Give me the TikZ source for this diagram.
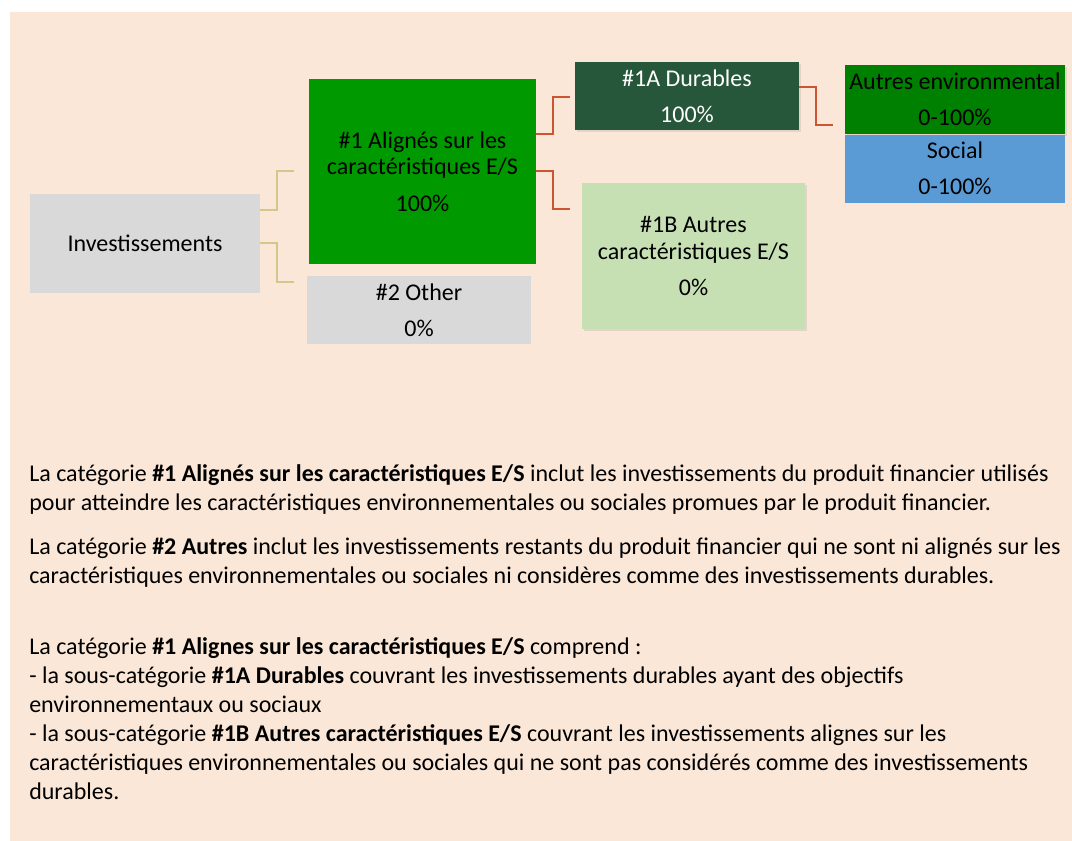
\documentclass[tikz,border=0pt]{standalone}
\usepackage{fontspec}
\setmainfont{Carlito}
\usetikzlibrary{positioning,calc,shadows}

\definecolor{peach}{HTML}{FAE7D7}
\definecolor{boxgray}{HTML}{D9D9D9}
\definecolor{alignedgreen}{HTML}{009900}
\definecolor{durgreen}{HTML}{26573A}
\definecolor{lightgreen}{HTML}{C6E0B4}
\definecolor{envgreen}{HTML}{008000}
\definecolor{socblue}{HTML}{5B9BD5}
\definecolor{tanline}{HTML}{D6C68C}
\definecolor{redline}{HTML}{CC5533}

\begin{document}
\begin{tikzpicture}[x=0.75pt, y=-0.75pt,
    box/.style={rectangle, inner sep=0pt, align=center, font=\fontsize{18}{20}\selectfont},
    shadowed/.style={drop shadow={shadow xshift=1.5pt, shadow yshift=-1.5pt, opacity=0.18}},
    tanlink/.style={draw=tanline, line width=1.5pt},
    redlink/.style={draw=redline, line width=1.5pt},
    para/.style={anchor=base west, inner sep=0pt, align=left, font=\fontsize{18}{21.75}\selectfont}]

    % page and background
    \useasboundingbox (0,0) rectangle (1072,841);
    \fill[peach] (10,12) rectangle (1072,841);

    % tree of categories
    \node[box, fill=boxgray, minimum width=172.5pt, minimum height=74.25pt] (inv) at (145,243.5) {Investissements};
    \node[box, fill=alignedgreen, minimum width=170.25pt, minimum height=138.75pt] (aligned) at (422.5,171.5)
        {\#1 Alignés sur les\\caractéristiques E/S\\[7.5pt]100\%};
    \node[box, fill=boxgray, minimum width=168pt, minimum height=51pt] (other) at (419,310) {\#2 Other\\[7pt]0\%};
    \node[box, shadowed, fill=durgreen, text=white, minimum width=168pt, minimum height=51pt] (durables) at (687,96)
        {\#1A Durables\\[7pt]100\%};
    \node[box, shadowed, fill=lightgreen, minimum width=167.25pt, minimum height=109.5pt] (autres) at (693.5,256)
        {\#1B Autres\\caractéristiques E/S\\[7.5pt]0\%};
    \node[box, shadowed, fill=envgreen, minimum width=165pt, minimum height=51.75pt] (env) at (955,99.5)
        {Autres environmental\\[7pt]0-100\%};
    \node[box, fill=socblue, minimum width=165pt, minimum height=51pt, below=0pt of env] (social)
        {Social\\[7pt]0-100\%};

    % connectors
    \draw[tanlink] ($(inv.east)+(0,-33.5)$) -- ++(17,0) |- ($(aligned.west)+(-15,0)$);
    \draw[tanlink] (inv.east) -- ++(17,0) |- ($(other.north west)+(-13,6)$);
    \draw[redlink] ($(aligned.east)+(0,-37.5)$) -- ++(17,0) |- ($(durables.west)+(-5,1)$);
    \draw[redlink] (aligned.east) -- ++(17,0) |- ($(autres.north west)+(-12,26)$);
    \draw[redlink] ($(durables.east)+(0,-9)$) -- ++(17,0) |- ($(env.south west)+(-12,-9)$);

    % explanations (anchored on the last line)
    \node[para] (text1) at (29,510.5)
        {La catégorie \textbf{\#1 Alignés sur les caractéristiques E/S} inclut les investissements du produit financier utilisés\\
         pour atteindre les caractéristiques environnementales ou sociales promues par le produit financier.};
    \node[para] (text2) at (29,583.5)
        {La catégorie \textbf{\#2 Autres} inclut les investissements restants du produit financier qui ne sont ni alignés sur les\\
         caractéristiques environnementales ou sociales ni considères comme des investissements durables.};
    \node[para] (text3) at (29,799.5)
        {La catégorie \textbf{\#1 Alignes sur les caractéristiques E/S} comprend :\\
         - la sous-catégorie \textbf{\#1A Durables} couvrant les investissements durables ayant des objectifs\\
         environnementaux ou sociaux\\
         - la sous-catégorie \textbf{\#1B Autres caractéristiques E/S} couvrant les investissements alignes sur les\\
         caractéristiques environnementales ou sociales qui ne sont pas considérés comme des investissements\\
         durables.};
\end{tikzpicture}
\end{document}
